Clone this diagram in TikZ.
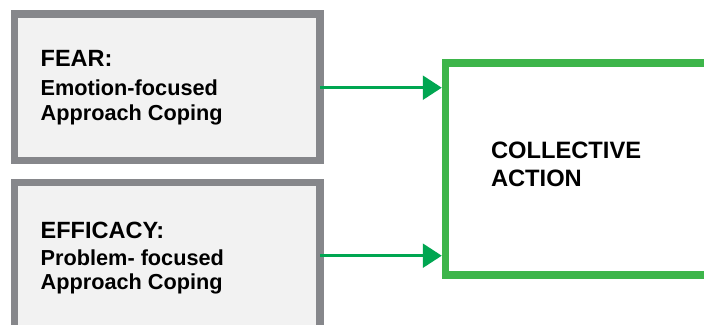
\documentclass[tikz,border=0pt]{standalone}
\usepackage{fontspec}
\setmainfont{Liberation Sans}
\usetikzlibrary{arrows.meta}
\definecolor{boxgray}{HTML}{86878B}
\definecolor{boxfill}{HTML}{F2F2F2}
\definecolor{boxgreen}{HTML}{3DB54A}
\definecolor{arrgreen}{HTML}{00A651}
\tikzset{
  graybox/.style={draw=boxgray, fill=boxfill, line width=7.5pt, rectangle, inner sep=0pt, outer sep=0pt},
  greenbox/.style={draw=boxgreen, fill=white, line width=7.5pt, rectangle, inner sep=0pt},
  arr/.style={draw=arrgreen, line width=2.6pt, -{Triangle[length=19pt,width=24pt]}},
  lbl/.style={anchor=base west, inner sep=0pt, outer sep=0pt, text=black},
  big/.style={font=\fontsize{23.5}{27}\selectfont\bfseries},
  small/.style={font=\fontsize{21.7}{24}\selectfont\bfseries}
}
\begin{document}
\begin{tikzpicture}[x=1pt, y=-1pt]
\useasboundingbox (0,0) rectangle (704,324);
\clip (0,0) rectangle (704,324);
\fill[white] (0,0) rectangle (704,324);
% boxes
\node[graybox, minimum width=305.5pt, minimum height=146.7pt] (fear) at (167.25,87.35) {};
\node[graybox, minimum width=305.5pt, minimum height=157.5pt] (eff) at (167.25,261.25) {};
\node[greenbox, minimum width=274.5pt, minimum height=212pt] (coll) at (582.75,169) {};
% texts
\node[lbl, big] (t1) at (40.7,66.5) {FEAR:};
\node[lbl, small] (t2) at (40.7,95.5) {Emotion-focused};
\node[lbl, small] (t3) at (40.7,120) {Approach Coping};
\node[lbl, big] (t4) at (40.7,238.3) {EFFICACY:};
\node[lbl, small] (t5) at (40.7,265) {Problem- focused};
\node[lbl, small] (t6) at (40.7,289.5) {Approach Coping};
\node[lbl, font=\fontsize{23.7}{28}\selectfont\bfseries] (t7) at (491,158.3) {COLLECTIVE};
\node[lbl, font=\fontsize{23.7}{28}\selectfont\bfseries] (t8) at (491,186.7) {ACTION};
% connectors
\coordinate (fearout) at ([yshift=-0.35pt]fear.east);
\draw[arr] (fearout) -- (coll.west |- fearout);
\coordinate (effout) at ([yshift=-73.2pt]eff.north east);
\draw[arr] (effout) -- (coll.west |- effout);
\end{tikzpicture}
\end{document}
